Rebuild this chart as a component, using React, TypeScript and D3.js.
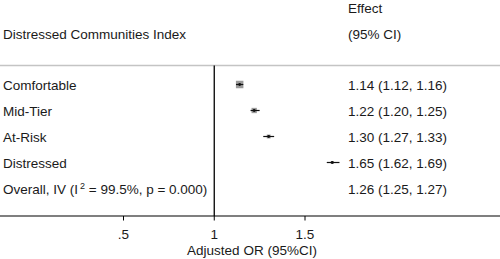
import React from "react";
import * as d3 from "d3";

const labels = ["Comfortable", "Mid-Tier", "At-Risk", "Distressed"];
const estimates = [1.14, 1.22, 1.30, 1.65];
const lower = [1.12, 1.20, 1.27, 1.62];
const upper = [1.16, 1.25, 1.33, 1.69];
const weights = [52, 26, 14, 8];
const overall = { est: 1.26, lo: 1.25, hi: 1.27, i2: "99.5%", p: "0.000" };
const ticks = [0.5, 1, 1.5];
const fmt = (v: number) => v.toFixed(2);

const W = 500;
const H = 259;

export default function App() {
  const x = d3.scaleLinear().domain([0.5, 1.5]).range([123.5, 305]);
  const rowY = d3.scaleLinear().domain([0, 1]).range([84.5, 110.5]);
  const boxSize = d3.scaleSqrt().domain([0, 52]).range([0, 7.5]);
  const font = "'Liberation Sans', Arial, Helvetica, sans-serif";
  const fs = 13.5;
  const axisY = 216;
  const topLine = 65.5;
  const textX = 348;
  const tc = "#1a1a1a";
  return (
    <svg width={W} height={H} style={{ position: "absolute", left: 0, top: 0, background: "#fff" }} fontFamily={font} fontSize={fs} fill={tc}>
      <text x={textX} y={12.5}>Effect</text>
      <text x={3} y={38.5}>Distressed Communities Index</text>
      <text x={textX} y={38.5}>(95% CI)</text>
      <line x1={0} x2={W} y1={topLine} y2={topLine} stroke="#c4c4c4" strokeWidth={1.5} />
      <line x1={x(1)} x2={x(1)} y1={topLine} y2={axisY} stroke="#000" strokeWidth={1.3} />
      {labels.map((l, i) => {
        const cy = rowY(i);
        const s = boxSize(weights[i]);
        return (
          <g key={l}>
            <text x={3} y={cy + 5.3}>{l}</text>
            <text x={textX} y={cy + 5.3}>{`${fmt(estimates[i])} (${fmt(lower[i])}, ${fmt(upper[i])})`}</text>
            <rect x={x(estimates[i]) - s / 2} y={cy - s / 2} width={s} height={s} fill="#9a9a9a" />
            <line x1={x(lower[i])} x2={x(upper[i])} y1={cy} y2={cy} stroke="#111" strokeWidth={1.2} />
            <circle cx={x(estimates[i])} cy={cy} r={1.4} fill="#111" />
          </g>
        );
      })}
      <text x={3} y={rowY(4) + 5.3}>
        Overall, IV (I
        <tspan fontSize={9} dy={-5} dx={2}>2</tspan>
        <tspan dy={5}>{` = ${overall.i2}, p = ${overall.p})`}</tspan>
      </text>
      <text x={textX} y={rowY(4) + 5.3}>{`${fmt(overall.est)} (${fmt(overall.lo)}, ${fmt(overall.hi)})`}</text>
      <line x1={0} x2={W} y1={axisY} y2={axisY} stroke="#000" strokeWidth={1.2} />
      {ticks.map((t) => (
        <g key={t}>
          <line x1={x(t)} x2={x(t)} y1={axisY} y2={axisY + 4.5} stroke="#000" strokeWidth={1} />
          <text x={x(t)} y={238.5} textAnchor="middle">{t === 0.5 ? ".5" : String(t)}</text>
        </g>
      ))}
      <text x={252} y={255} textAnchor="middle">Adjusted OR (95%CI)</text>
    </svg>
  );
}
